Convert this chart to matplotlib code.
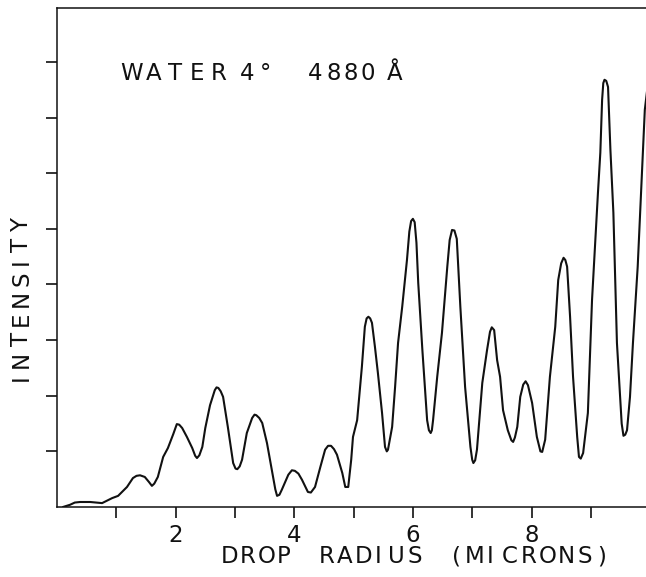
import matplotlib
matplotlib.use("Agg")
import matplotlib.pyplot as plt

# traced curve: drop radius (microns) vs intensity (arbitrary units)
radius = [
    0.10, 0.22, 0.30, 0.39, 0.56, 0.76, 0.93, 1.03, 1.18, 1.28,
    1.34, 1.40, 1.48, 1.55, 1.60, 1.64, 1.70, 1.79, 1.87, 1.96,
    2.02, 2.06, 2.11, 2.19, 2.28, 2.33, 2.36, 2.40, 2.45, 2.50,
    2.58, 2.66, 2.69, 2.72, 2.76, 2.80, 2.88, 2.97, 3.01, 3.04,
    3.08, 3.12, 3.20, 3.29, 3.33, 3.36, 3.41, 3.46, 3.54, 3.63,
    3.68, 3.71, 3.75, 3.79, 3.90, 3.96, 4.01, 4.07, 4.13, 4.23,
    4.28, 4.35, 4.44, 4.52, 4.57, 4.62, 4.67, 4.72, 4.81, 4.86,
    4.91, 4.96, 4.99, 5.06, 5.14, 5.19, 5.22, 5.25, 5.28, 5.31,
    5.36, 5.41, 5.48, 5.53, 5.56, 5.58, 5.65, 5.70, 5.75, 5.82,
    5.90, 5.94, 5.97, 6.00, 6.03, 6.06, 6.09, 6.16, 6.24, 6.27,
    6.30, 6.32, 6.34, 6.41, 6.49, 6.58, 6.62, 6.66, 6.70, 6.74,
    6.80, 6.88, 6.97, 7.00, 7.02, 7.05, 7.08, 7.17, 7.25, 7.30,
    7.33, 7.37, 7.42, 7.47, 7.52, 7.60, 7.66, 7.69, 7.72, 7.76,
    7.81, 7.86, 7.90, 7.94, 8.01, 8.09, 8.15, 8.18, 8.23, 8.31,
    8.40, 8.45, 8.50, 8.54, 8.57, 8.60, 8.65, 8.70, 8.77, 8.80,
    8.83, 8.87, 8.95, 9.02, 9.07, 9.12, 9.16, 9.19, 9.21, 9.23,
    9.26, 9.29, 9.33, 9.38, 9.44, 9.49, 9.52, 9.55, 9.58, 9.61,
    9.66, 9.71, 9.79, 9.86, 9.91, 9.95,
]
intensity = [
    0.00, 0.04, 0.08, 0.09, 0.09, 0.07, 0.16, 0.20, 0.36, 0.52,
    0.56, 0.57, 0.54, 0.45, 0.38, 0.42, 0.54, 0.90, 1.06, 1.31,
    1.49, 1.48, 1.42, 1.26, 1.06, 0.92, 0.88, 0.93, 1.08, 1.42,
    1.83, 2.10, 2.15, 2.14, 2.08, 1.98, 1.44, 0.79, 0.69, 0.68,
    0.73, 0.85, 1.33, 1.60, 1.66, 1.65, 1.60, 1.51, 1.15, 0.61,
    0.32, 0.20, 0.22, 0.31, 0.58, 0.66, 0.65, 0.60, 0.49, 0.27,
    0.26, 0.36, 0.72, 1.03, 1.10, 1.10, 1.04, 0.94, 0.61, 0.36,
    0.36, 0.85, 1.26, 1.56, 2.52, 3.24, 3.39, 3.42, 3.39, 3.31,
    2.88, 2.41, 1.69, 1.08, 1.00, 1.03, 1.44, 2.16, 2.95, 3.60,
    4.44, 4.95, 5.14, 5.18, 5.12, 4.75, 4.03, 2.82, 1.56, 1.38,
    1.33, 1.38, 1.56, 2.34, 3.13, 4.32, 4.80, 4.98, 4.97, 4.82,
    3.60, 2.16, 1.08, 0.85, 0.79, 0.84, 1.03, 2.23, 2.82, 3.15,
    3.23, 3.18, 2.64, 2.34, 1.74, 1.38, 1.20, 1.17, 1.25, 1.44,
    1.98, 2.20, 2.26, 2.19, 1.87, 1.26, 1.00, 0.99, 1.21, 2.34,
    3.24, 4.08, 4.38, 4.48, 4.44, 4.32, 3.42, 2.34, 1.26, 0.90,
    0.87, 0.97, 1.69, 3.72, 4.68, 5.65, 6.37, 7.32, 7.62, 7.68,
    7.66, 7.55, 6.42, 5.29, 2.95, 2.05, 1.50, 1.28, 1.30, 1.38,
    1.98, 2.95, 4.32, 5.94, 7.14, 7.50,
]
x_ticks = [1, 2, 3, 4, 5, 6, 7, 8, 9]
x_tick_labels = ["", "2", "", "4", "", "6", "", "8", ""]
y_ticks = [1, 2, 3, 4, 5, 6, 7, 8]

W, H = 646, 577
INK = "#111111"
plt.rcParams["font.family"] = ["DejaVu Sans"]

fig = plt.figure(figsize=(W / 100, H / 100), dpi=100)
ax = fig.add_axes([57 / W, 70 / H, 589 / W, 499 / H])

ax.plot(radius, intensity, color=INK, lw=1.5,
        solid_joinstyle="round", solid_capstyle="round")
ax.set_xlim(0, 9.93)
ax.set_ylim(0, 8.97)

ax.set_xticks(x_ticks)
ax.set_xticklabels(x_tick_labels)
ax.set_yticks(y_ticks)
ax.set_yticklabels([])
ax.tick_params(axis="both", direction="out", length=8, width=1.2, color=INK)
ax.tick_params(axis="x", labelsize=16.5, labelcolor=INK, pad=4.5)

ax.spines["right"].set_visible(False)
for side in ("left", "bottom", "top"):
    ax.spines[side].set_linewidth(1.1)
    ax.spines[side].set_color(INK)


def spaced_text(chars, xs, ys, rotation=0):
    """Place characters one by one (pixel coords) to mimic the wide plotter lettering."""
    for ch, x, y in zip(chars, xs, ys):
        if not ch.strip():
            continue
        fig.text(x / W, 1 - y / H, ch, fontsize=16.5, color=INK,
                 ha="center", va="baseline", rotation=rotation,
                 rotation_mode="anchor")


# title inside the plot
title = "WATER 4° 4880Å"
title_x = [131.7, 153.5, 175.3, 197.1, 218.9, 0, 247, 265, 0,
           315.5, 333.5, 350.5, 367.5, 395]
spaced_text(title, title_x, [80] * len(title))

# x axis label
xlabel = "DROP RADIUS  (MICRONS)"
xlabel_x = [230, 247.5, 266.5, 284, 0,
            326.5, 345, 363.5, 378.5, 396.5, 415, 0, 0,
            457, 474.5, 490, 510, 528.5, 547.5, 566.5, 585, 602]
spaced_text(xlabel, xlabel_x, [563] * len(xlabel))

# y axis label (rotated, reading bottom to top)
ylabel = "INTENSITY"
ylabel_y = [377.5, 359.5, 338.5, 318.5, 298.5, 278.5, 261.5, 245, 225.5]
spaced_text(ylabel, [28] * len(ylabel), ylabel_y, rotation=90)

fig.savefig("out.png", dpi=100)
